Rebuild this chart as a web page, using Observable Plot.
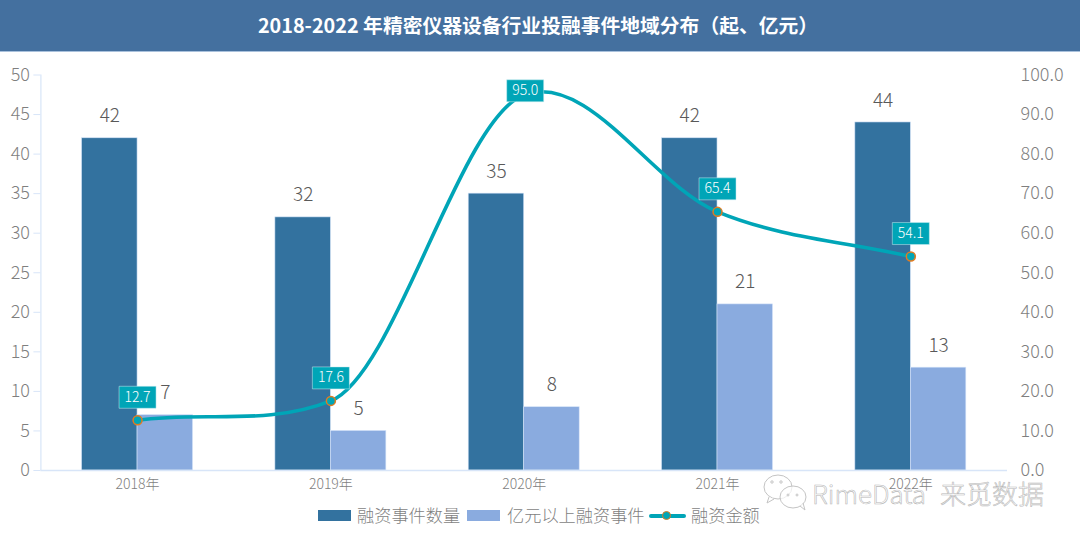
<!DOCTYPE html>
<html lang="zh">
<head>
<meta charset="utf-8">
<script src="https://cdn.jsdelivr.net/npm/d3@7"></script>
<script src="https://cdn.jsdelivr.net/npm/@observablehq/plot@0.6"></script>
<style>
  html, body { margin: 0; padding: 0; background: #fff; }
  body { width: 1080px; height: 542px; position: relative; overflow: hidden; font-family: "Noto Sans CJK SC", "Noto Sans", sans-serif; }
  #title { height: 51px; line-height: 50px; background: #44709f; border-bottom: 1px solid #a9c1dc; color: #fff; font-size: 19.8px; font-weight: 700; text-align: center; padding-right: 4px; box-sizing: content-box; }
  #chart svg { display: block; }
  #legend { position: absolute; top: 502px; left: 0; width: 1080px; height: 26px; color: #7f7f7f; font-size: 17.2px; font-weight: 300; line-height: 26px; }
  #legend span { position: absolute; white-space: nowrap; }
  #legend i { position: absolute; display: block; }
  #mark { position: absolute; left: 760px; top: 472px; width: 300px; height: 42px; }
  #mark text { font-size: 26px; font-weight: 300; fill: rgba(255,255,255,.55); stroke: rgba(165,165,165,.8); stroke-width: .6px; }
</style>
</head>
<body>
<div id="title">2018-2022 年精密仪器设备行业投融事件地域分布（起、亿元）</div>
<div id="chart"></div>
<div id="legend">
  <i style="left:318px;top:8px;width:33px;height:11px;background:#33729f"></i><span style="left:357px">融资事件数量</span>
  <i style="left:467px;top:8px;width:33px;height:11px;background:#8aabdf"></i><span style="left:507px">亿元以上融资事件</span>
  <i style="left:649px;top:12px;width:37px;height:4px;background:#00a5b7;border-radius:2px"></i>
  <i style="left:662px;top:9px;width:7px;height:7px;border-radius:50%;background:#00a5b7;border:1.5px solid #e07b20"></i><span style="left:691px">融资金额</span>
</div>
<svg id="mark" viewBox="0 0 300 42">
  <g fill="rgba(255,255,255,.7)" stroke="#c4c4c4" stroke-width="1">
    <ellipse cx="18" cy="15" rx="14" ry="12"/>
    <path d="M9 25 L7 31 L14 27"/>
    <ellipse cx="33" cy="25" rx="13" ry="11"/>
    <path d="M40 34 L45 38 L43 31"/>
    <circle cx="12" cy="10" r="1.2"/><circle cx="21" cy="10" r="1.2"/>
    <circle cx="28" cy="23" r="1"/><circle cx="37" cy="23" r="1"/>
  </g>
  <text x="52" y="32">RimeData</text>
  <text x="180" y="32">来觅数据</text>
</svg>
<script>
const years = [2018, 2019, 2020, 2021, 2022];
const events = [42, 32, 35, 42, 44];
const bigEvents = [7, 5, 8, 21, 13];
const amount = [12.7, 17.6, 95.0, 65.4, 54.1];
const leftTicks = [0, 5, 10, 15, 20, 25, 30, 35, 40, 45, 50];

const barSpan = 0.287;
const rows = years.map((year, i) => ({year, events: events[i], big: bigEvents[i], amount: amount[i]}));
const onRight = v => v / 2;
const labelBox = {draw(c) { c.rect(-18.5, -11, 37, 22); }};
const axisInk = "#d8e5f8", tickInk = "#7f7f7f", valueInk = "#595959", teal = "#00a5b7";
const isPeak = d => d.amount === d3.max(amount);
const light = 300;

// Office-style smoothed line: centripetal tangents, limited beside flat stretches.
function officeSmooth(context) {
  let pts = [];
  return {
    areaStart() {}, areaEnd() {},
    lineStart() { pts = []; },
    point(x, y) { pts.push([+x, +y]); },
    lineEnd() {
      const n = pts.length;
      if (!n) return;
      const sec = [], len = [];
      for (let i = 0; i < n - 1; i++) {
        const dx = pts[i + 1][0] - pts[i][0], dy = pts[i + 1][1] - pts[i][1];
        sec.push(dy / dx);
        len.push(Math.sqrt(Math.hypot(dx, dy)));
      }
      const m = pts.map((_, i) => {
        if (i === 0) return 1.5 * sec[0];
        if (i === n - 1) return sec[n - 2];
        const t = (sec[i - 1] * len[i] + sec[i] * len[i - 1]) / (len[i] + len[i - 1]);
        const cap = 4 * Math.min(Math.abs(sec[i - 1]), Math.abs(sec[i]));
        return Math.sign(t) * Math.min(Math.abs(t), cap);
      });
      context.moveTo(pts[0][0], pts[0][1]);
      for (let i = 0; i < n - 1; i++) {
        const h = (pts[i + 1][0] - pts[i][0]) / 3;
        context.bezierCurveTo(pts[i][0] + h, pts[i][1] + m[i] * h, pts[i + 1][0] - h, pts[i + 1][1] - m[i + 1] * h, pts[i + 1][0], pts[i + 1][1]);
      }
    }
  };
}

const chart = Plot.plot({
  width: 1080,
  height: 448,
  marginLeft: 40.4,
  marginRight: 73,
  marginTop: 22.5,
  marginBottom: 30,
  style: {fontFamily: '"Noto Sans CJK SC", "Noto Sans", sans-serif', background: "transparent"},
  x: {domain: [2017.5, 2022.5]},
  y: {domain: [0, 50]},
  marks: [
    Plot.rectY(rows, {x1: d => d.year - barSpan, x2: "year", y: "events", fill: "#33729f", stroke: "#cfe0f5", strokeWidth: 0.6}),
    Plot.rectY(rows, {x1: "year", x2: d => d.year + barSpan, y: "big", fill: "#8aabdf", stroke: "#d5e3f8", strokeWidth: 0.6}),
    Plot.ruleX([2017.5], {stroke: axisInk, strokeWidth: 1.2}),
    Plot.ruleY([0], {stroke: axisInk, strokeWidth: 1.5}),
    Plot.axisY({anchor: "left", ticks: leftTicks, tickSize: 7, tickPadding: 4, label: null, stroke: axisInk, fill: tickInk, fontSize: 18, fontWeight: light}),
    Plot.axisY({anchor: "right", ticks: leftTicks, tickSize: 0, tickPadding: 13, label: null, fill: tickInk, fontSize: 18, fontWeight: light, tickFormat: t => (t * 2).toFixed(1)}),
    Plot.axisX({ticks: years, tickSize: 0, tickPadding: 9, label: null, fill: tickInk, fontSize: 14, fontWeight: light, tickFormat: y => `${y}年`}),
    Plot.text(rows, {x: d => d.year - barSpan / 2, y: "events", text: "events", dy: -22, fill: valueInk, fontSize: 19, fontWeight: light}),
    Plot.text(rows, {x: d => d.year + barSpan / 2, y: "big", text: "big", dy: -22, fill: valueInk, fontSize: 19, fontWeight: light}),
    Plot.line(rows, {x: "year", y: d => onRight(d.amount), curve: officeSmooth, stroke: teal, strokeWidth: 3.6}),
    Plot.dot(rows, {x: "year", y: d => onRight(d.amount), r: 4.5, fill: teal, stroke: "#e07b20", strokeWidth: 1.5}),
    Plot.dot(rows.filter(d => !isPeak(d)), {x: "year", y: d => onRight(d.amount), dy: -23, symbol: labelBox, fill: teal, stroke: "#cfeef2", strokeWidth: 0.5}),
    Plot.dot(rows.filter(isPeak), {x: "year", y: d => onRight(d.amount), dx: 1, dy: -4, symbol: labelBox, fill: teal, stroke: "#cfeef2", strokeWidth: 0.5}),
    Plot.text(rows.filter(d => !isPeak(d)), {x: "year", y: d => onRight(d.amount), dy: -23, text: d => d.amount.toFixed(1), fill: "#fff", fontSize: 14, fontWeight: light}),
    Plot.text(rows.filter(isPeak), {x: "year", y: d => onRight(d.amount), dx: 1, dy: -4, text: d => d.amount.toFixed(1), fill: "#fff", fontSize: 14, fontWeight: light})
  ]
});
document.getElementById("chart").appendChild(chart);
</script>
</body>
</html>
